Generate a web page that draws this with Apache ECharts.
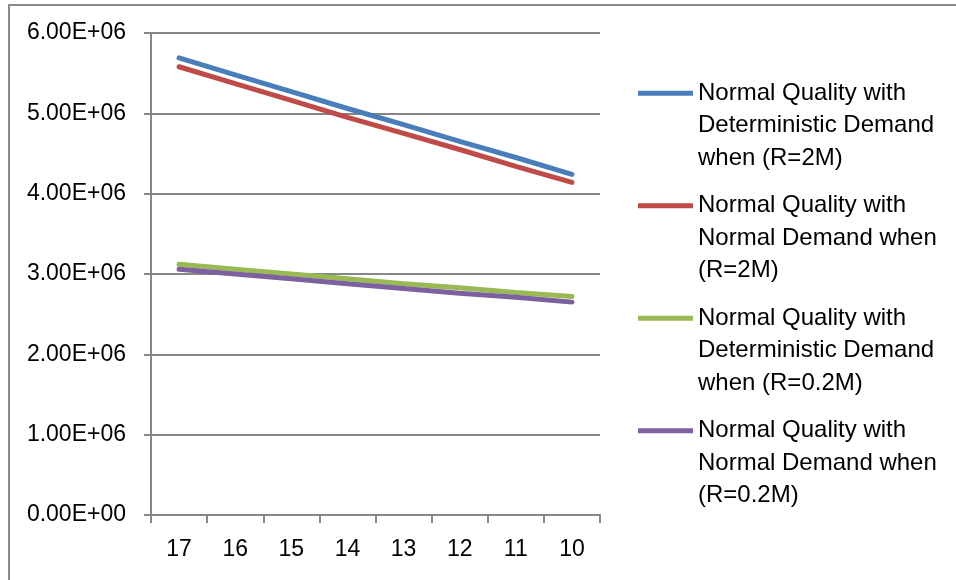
<!DOCTYPE html>
<html>
<head>
<meta charset="utf-8">
<script src="https://cdn.jsdelivr.net/npm/echarts@6/dist/echarts.min.js"></script>
<style>
	html, body { margin: 0; padding: 0; background: #fff; }
	#frame { position: absolute; left: 8px; top: 4px; width: 1000px; height: 1000px; border-top: 2px solid #8a8a8a; border-left: 2px solid #8a8a8a; }
	#chart { position: absolute; left: 0; top: 0; width: 956px; height: 580px; }
</style>
</head>
<body>
<div id="frame"></div>
<div id="chart"></div>
<script>
	// x 轴类别
	var categories = ['17', '16', '15', '14', '13', '12', '11', '10'];

	// 各曲线数据
	var detDemand2M = [5.69e6, 5.48e6, 5.27e6, 5.06e6, 4.86e6, 4.65e6, 4.45e6, 4.24e6];
	var normDemand2M = [5.58e6, 5.37e6, 5.16e6, 4.95e6, 4.75e6, 4.55e6, 4.34e6, 4.14e6];
	var detDemand02M = [3.12e6, 3.06e6, 3.00e6, 2.94e6, 2.88e6, 2.83e6, 2.77e6, 2.72e6];
	var normDemand02M = [3.06e6, 3.00e6, 2.94e6, 2.88e6, 2.82e6, 2.76e6, 2.71e6, 2.65e6];

	// 图例文字
	var seriesNames = [
		'Normal Quality with\nDeterministic Demand\nwhen (R=2M)',
		'Normal Quality with\nNormal Demand when\n(R=2M)',
		'Normal Quality with\nDeterministic Demand\nwhen (R=0.2M)',
		'Normal Quality with\nNormal Demand when\n(R=0.2M)'
	];
	var colors = ['#4A7EBB', '#BE4B48', '#98B954', '#7D60A0'];

	var chart = echarts.init(document.getElementById('chart'));

	function sci(v) {
		var parts = v.toExponential(2).split('e');
		var e = parts[1];
		var n = Math.abs(Number(e));
		return parts[0] + 'E' + (e.charAt(0) === '-' ? '-' : '+') + (n < 10 ? '0' + n : n);
	}

	function line(name, data, color) {
		return {
			name: name,
			type: 'line',
			data: data,
			showSymbol: false,
			symbol: 'none',
			animation: false,
			lineStyle: { color: color, width: 5, cap: 'round' },
			itemStyle: { color: color }
		};
	}

	var option = {
		animation: false,
		color: colors,
		grid: { left: 151, right: 356, top: 33, bottom: 65 },
		legend: {
			orient: 'vertical',
			left: 638,
			top: 12,
			padding: 0,
			itemGap: -50,
			itemWidth: 55,
			itemHeight: 5,
			icon: 'rect',
			data: seriesNames,
			formatter: function(name) {
				return '\n\n' + name;
			},
			textStyle: {
				fontFamily: 'Liberation Sans, Arial, sans-serif',
				fontSize: 24,
				lineHeight: 32.5,
				color: '#000'
			}
		},
		xAxis: {
			type: 'category',
			data: categories,
			boundaryGap: true,
			axisLine: { lineStyle: { color: '#868686', width: 2 } },
			axisTick: { show: true, length: 8, interval: 0, lineStyle: { color: '#868686', width: 2 } },
			axisLabel: {
				margin: 23,
				fontFamily: 'Liberation Sans, Arial, sans-serif',
				fontSize: 23,
				color: '#000'
			},
			splitLine: { show: false }
		},
		yAxis: {
			type: 'value',
			min: 0,
			max: 6e6,
			interval: 1e6,
			axisLine: { show: true, lineStyle: { color: '#868686', width: 2 } },
			axisTick: { show: true, length: 7, lineStyle: { color: '#868686', width: 2 } },
			axisLabel: {
				margin: 25,
				fontFamily: 'Liberation Sans, Arial, sans-serif',
				fontSize: 23,
				color: '#000',
				formatter: sci
			},
			splitLine: { show: true, lineStyle: { color: '#868686', width: 2 } }
		},
		series: [
			line(seriesNames[0], detDemand2M, colors[0]),
			line(seriesNames[1], normDemand2M, colors[1]),
			line(seriesNames[2], detDemand02M, colors[2]),
			line(seriesNames[3], normDemand02M, colors[3])
		]
	};

	chart.setOption(option);
</script>
</body>
</html>
